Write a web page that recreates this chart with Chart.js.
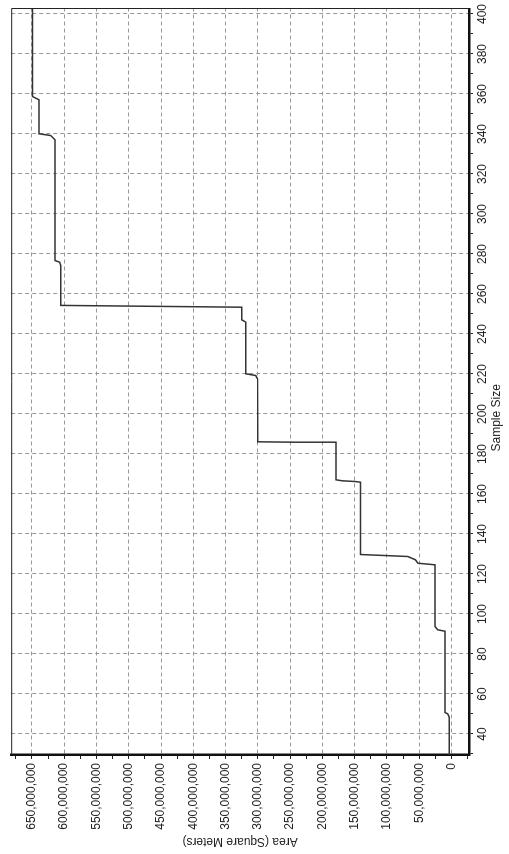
<!DOCTYPE html>
<html>
<head>
<meta charset="utf-8">
<script src="https://cdn.jsdelivr.net/npm/chart.js@4.4.1/dist/chart.umd.min.js"></script>
<style>
  html, body { margin: 0; padding: 0; background: #fff; overflow: hidden; }
  #wrap {
    position: absolute; left: 0; top: 0;
    width: 854px; height: 509px;
    transform-origin: 0 0;
    transform: translate(0, 854px) rotate(-90deg);
  }
</style>
</head>
<body>
<div id="wrap"><canvas id="chart" width="854" height="509"></canvas></div>
<script>
// cumulative area against sample size
const sampleSize = [29.5, 48.4, 50.1, 50.75, 91.4, 92.1, 93.75, 124.6, 125.4, 127.1, 128.75, 129.75,
    165.9, 166.25, 166.6, 167.1, 185.6, 185.9, 186.1, 217.6, 219.25, 220.1, 245.9, 247.1,
    253.4, 254.3, 274.25, 275.9, 276.75, 337.1, 339.25, 340.1, 357.1, 358.75, 402.5];
const areaM = [3.7, 3.7, 6.1, 10.3, 10.3, 21.5, 25.5, 25.5, 52, 56, 67.6, 141,
    141, 149.6, 169, 179, 179, 242, 300, 300.7, 303.3, 318.7, 318.7, 324.8,
    324.8, 605.4, 605.4, 607, 614.2, 614.2, 620.8, 638.8, 638.8, 649, 649];

const sampleMin = 29.5, sampleMax = 402.5;
const areaMin = -27000000, areaMax = 682000000;
// ticks every 25M (labels every 50M), every 10 samples (labels every 20)
const areaTickFirst = -25000000, areaTickLast = 675000000, areaTickStep = 25000000;

const points = sampleSize.map((s, i) => ({x: s, y: areaM[i] * 1000000}));

const FONT = {family: '"Liberation Sans", Arial, sans-serif', size: 12};

const frame = {
    id: 'frame',
    afterDraw(chart) {
        const {ctx, chartArea} = chart;
        ctx.save();
        ctx.strokeStyle = '#222';
        ctx.lineWidth = 1;
        ctx.beginPath();
        ctx.moveTo(chartArea.left, chartArea.top + 0.5);
        ctx.lineTo(chartArea.right + 0.5, chartArea.top + 0.5);
        ctx.lineTo(chartArea.right + 0.5, chartArea.bottom);
        ctx.stroke();
        // x axis title sits left of centre in the original
        ctx.font = '12px "Liberation Sans", Arial, sans-serif';
        ctx.fillStyle = '#222';
        ctx.textAlign = 'center';
        ctx.textBaseline = 'middle';
        ctx.fillText('Sample Size', chartArea.left + (chartArea.right - chartArea.left) * 0.452, 497);
        ctx.restore();
    }
};

new Chart(document.getElementById('chart'), {
    type: 'line',
    data: {
        datasets: [{
            data: points,
            borderColor: '#333',
            borderWidth: 1.5,
            pointRadius: 0,
            tension: 0,
            fill: false
        }]
    },
    options: {
        responsive: false,
        animation: false,
        layout: {padding: {left: 0, right: 9, top: 7, bottom: 0}},
        plugins: {legend: {display: false}, tooltip: {enabled: false}},
        scales: {
            x: {
                type: 'linear',
                min: sampleMin,
                max: sampleMax,
                afterFit: (scale) => { scale.height = 40; },
                ticks: {
                    stepSize: 10,
                    includeBounds: false,
                    autoSkip: false,
                    maxRotation: 0,
                    padding: 2,
                    color: '#222',
                    font: FONT,
                    callback: (v) => v % 20 === 0 ? String(v) : ''
                },
                grid: {
                    color: (c) => c.tick && c.tick.value % 20 === 0 ? '#999' : 'rgba(0,0,0,0)',
                    tickColor: '#222',
                    tickLength: 4,
                    lineWidth: 1
                },
                border: {color: '#111', width: 2.5, dash: [4, 3]}
            },
            y: {
                type: 'linear',
                min: areaMin,
                max: areaMax,
                afterFit: (scale) => { scale.width = 99; },
                afterBuildTicks: (scale) => {
                    const ticks = [];
                    for (let v = areaTickFirst; v <= areaTickLast; v += areaTickStep) ticks.push({value: v});
                    scale.ticks = ticks;
                },
                ticks: {
                    autoSkip: false,
                    padding: 4,
                    color: '#222',
                    font: FONT,
                    callback: (v) => v % 50000000 === 0 ? v.toLocaleString('en-US') : ''
                },
                grid: {
                    color: (c) => c.tick && c.tick.value % 50000000 === 0 ? '#999' : 'rgba(0,0,0,0)',
                    tickColor: '#222',
                    tickLength: 4,
                    lineWidth: 1
                },
                border: {color: '#111', width: 2.5, dash: [4, 3]},
                title: {
                    display: true,
                    text: 'Area (Square Meters)',
                    color: '#222',
                    font: FONT,
                    padding: {top: 5, bottom: 0}
                }
            }
        }
    },
    plugins: [frame]
});
</script>
</body>
</html>
